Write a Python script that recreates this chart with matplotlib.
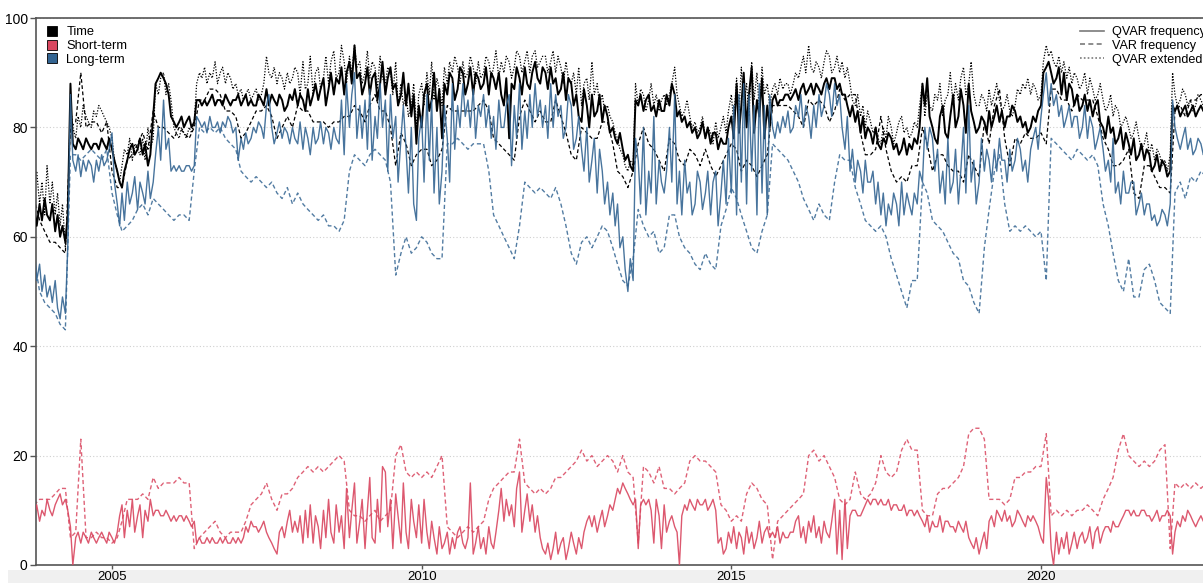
import matplotlib
matplotlib.use("Agg")
import matplotlib.pyplot as plt
import matplotlib.dates as mdates
from matplotlib.lines import Line2D
from matplotlib.patches import Patch, Rectangle
import pandas as pd

plt.rcParams['font.family'] = ['Liberation Sans', 'DejaVu Sans']

C_TIME = '#000000'
C_SHORT = '#d9465f'
C_LONG = '#346592'

# ---- semi-monthly readings (1st and 15th of each month), from Oct 2003 ----
time_qvar = [
    65, 62, 66, 63, 67, 64,
    63, 66, 61, 64, 60, 62, 59, 64, 88, 77, 76, 78, 77, 76, 78, 77, 76, 77, 77, 76, 78, 77, 76, 78,
    76, 74, 72, 70, 69, 72, 74, 76, 77, 75, 76, 78, 75, 77, 73, 75, 82, 88, 89, 90, 89, 88, 86, 82,
    81, 80, 81, 82, 80, 81, 82, 80, 81, 85, 85, 84, 85, 84, 85, 86, 84, 85, 85, 84, 86, 85, 84, 85,
    85, 86, 84, 85, 86, 84, 85, 84, 84, 86, 85, 84, 87, 84, 86, 85, 84, 86, 85, 83, 84, 86, 85, 87,
    84, 86, 85, 83, 87, 84, 86, 88, 85, 87, 89, 84, 87, 90, 86, 89, 88, 91, 86, 90, 92, 88, 95, 89,
    90, 86, 88, 91, 86, 89, 90, 85, 88, 92, 86, 89, 91, 87, 88, 84, 86, 90, 84, 88, 82, 86, 77, 84,
    80, 86, 88, 83, 85, 90, 83, 87, 78, 88, 86, 90, 89, 85, 87, 91, 90, 86, 88, 91, 86, 90, 89, 87,
    88, 91, 86, 90, 89, 87, 90, 86, 84, 89, 78, 88, 87, 91, 89, 86, 91, 88, 87, 90, 92, 89, 88, 91,
    90, 87, 91, 88, 89, 86, 87, 90, 85, 89, 88, 84, 86, 82, 81, 87, 84, 80, 86, 82, 83, 86, 81, 84,
    82, 79, 80, 78, 77, 79, 76, 74, 75, 73, 72, 85, 84, 86, 83, 85, 86, 83, 84, 82, 85, 83, 83, 86,
    84, 88, 86, 82, 83, 81, 82, 80, 81, 79, 80, 78, 79, 81, 78, 80, 77, 79, 79, 76, 78, 77, 77, 80,
    82, 78, 88, 79, 84, 90, 80, 86, 91, 79, 85, 82, 89, 78, 84, 80, 85, 86, 84, 85, 85, 86, 86, 85,
    86, 87, 85, 87, 88, 86, 87, 88, 86, 88, 87, 86, 88, 89, 87, 89, 89, 87, 88, 86, 86, 84, 82, 84,
    81, 83, 79, 82, 78, 80, 79, 77, 80, 77, 76, 78, 77, 79, 78, 76, 77, 75, 76, 78, 75, 77, 76, 78,
    77, 80, 88, 84, 89, 82, 80, 78, 77, 82, 84, 79, 78, 82, 86, 80, 82, 87, 84, 79, 88, 83, 81, 79,
    80, 82, 81, 79, 83, 80, 82, 84, 81, 83, 80, 82, 82, 84, 83, 81, 82, 80, 81, 79, 80, 82, 81, 83,
    84, 90, 91, 92, 90, 88, 89, 91, 86, 90, 85, 88, 87, 84, 86, 83, 84, 86, 83, 85, 82, 84, 85, 81,
    80, 78, 82, 79, 80, 77, 78, 80, 76, 79, 77, 75, 78, 74, 75, 77, 74, 76, 75, 72, 73, 75, 72, 74,
    73, 71, 72, 84, 83, 84, 82, 83, 84, 82, 83, 84, 82, 83, 84, 83, 83, 82,
]

time_ext = [
    68, 72, 66, 70, 64, 73,
    66, 70, 64, 68, 62, 66, 58, 64, 84, 80, 78, 82, 80, 84, 82, 81, 80, 83, 82, 84, 83, 82, 81, 80,
    78, 74, 72, 70, 73, 76, 75, 78, 74, 77, 76, 75, 78, 74, 80, 76, 78, 88, 86, 89, 90, 86, 88, 85,
    80, 79, 78, 80, 79, 78, 80, 79, 81, 88, 90, 89, 91, 88, 90, 89, 92, 88, 90, 91, 88, 90, 89, 87,
    88, 86, 87, 85, 86, 87, 85, 86, 87, 85, 86, 88, 93, 90, 89, 91, 88, 90, 89, 87, 90, 88, 89, 91,
    90, 86, 92, 87, 88, 93, 86, 90, 91, 87, 89, 93, 88, 92, 94, 89, 90, 95, 92, 88, 93, 90, 95, 91,
    92, 88, 90, 94, 89, 92, 91, 87, 93, 89, 88, 91, 90, 86, 92, 84, 88, 84, 86, 82, 84, 88, 80, 86,
    88, 84, 90, 86, 92, 85, 89, 87, 84, 91, 88, 92, 90, 93, 91, 88, 92, 89, 90, 93, 91, 88, 92, 89,
    90, 93, 92, 89, 91, 94, 89, 92, 90, 93, 92, 89, 91, 94, 93, 90, 92, 94, 90, 93, 94, 91, 92, 93,
    93, 90, 92, 94, 90, 93, 91, 88, 92, 89, 88, 90, 86, 91, 84, 88, 89, 85, 92, 86, 88, 84, 86, 83,
    84, 82, 81, 79, 78, 76, 75, 73, 72, 74, 73, 88, 84, 87, 86, 83, 85, 88, 84, 86, 83, 85, 86, 84,
    86, 88, 91, 86, 84, 82, 83, 85, 82, 80, 81, 79, 80, 82, 78, 80, 79, 77, 81, 78, 80, 82, 79, 83,
    86, 81, 89, 83, 91, 84, 88, 82, 92, 85, 90, 83, 91, 86, 88, 84, 87, 88, 86, 89, 87, 88, 88, 86,
    88, 90, 89, 91, 93, 90, 95, 91, 90, 92, 91, 89, 92, 94, 93, 90, 91, 93, 90, 92, 89, 91, 88, 85,
    84, 86, 82, 84, 80, 83, 81, 79, 80, 78, 77, 80, 78, 82, 80, 77, 79, 81, 82, 79, 80, 78, 79, 81,
    80, 84, 88, 82, 86, 84, 83, 86, 85, 88, 82, 85, 86, 90, 84, 88, 85, 89, 91, 86, 88, 92, 86, 84,
    84, 86, 85, 83, 87, 84, 86, 88, 85, 83, 84, 86, 83, 82, 84, 87, 86, 88, 87, 89, 86, 88, 87, 85,
    86, 92, 95, 93, 94, 92, 91, 93, 90, 92, 89, 91, 88, 90, 89, 87, 88, 90, 86, 89, 87, 85, 86, 88,
    85, 83, 84, 86, 82, 84, 83, 80, 81, 82, 80, 78, 79, 81, 78, 76, 77, 79, 75, 77, 74, 76, 75, 73,
    74, 72, 75, 90, 86, 84, 85, 87, 86, 84, 85, 83, 84, 86, 85, 84, 84, 85,
]

long_qvar = [
    58, 52, 55, 50, 53, 49,
    51, 48, 52, 47, 45, 49, 46, 58, 86, 74, 72, 75, 71, 74, 72, 74, 73, 70, 74, 72, 75, 73, 74, 76,
    79, 70, 66, 62, 68, 63, 70, 66, 68, 71, 65, 70, 68, 66, 72, 67, 70, 75, 80, 74, 85, 76, 78, 72,
    73, 72, 73, 72, 72, 73, 73, 72, 73, 82, 81, 80, 81, 79, 82, 80, 80, 81, 79, 81, 80, 82, 81, 79,
    80, 74, 78, 76, 79, 77, 78, 80, 79, 81, 80, 78, 84, 86, 80, 77, 79, 81, 78, 80, 79, 77, 80, 78,
    77, 81, 76, 80, 78, 75, 80, 77, 78, 81, 77, 80, 79, 76, 80, 78, 77, 85, 75, 88, 80, 86, 90, 78,
    84, 78, 85, 76, 87, 74, 82, 78, 88, 80, 85, 72, 86, 78, 82, 70, 78, 84, 76, 68, 80, 66, 63, 78,
    82, 70, 86, 74, 85, 68, 80, 66, 72, 84, 78, 70, 88, 76, 84, 80, 88, 82, 85, 80, 87, 78, 84, 82,
    86, 80, 84, 78, 82, 76, 85, 80, 80, 84, 86, 73, 84, 78, 88, 76, 83, 78, 86, 80, 88, 82, 85, 80,
    84, 78, 88, 80, 86, 82, 84, 78, 80, 86, 84, 76, 78, 82, 76, 72, 80, 70, 74, 78, 68, 76, 72, 66,
    70, 64, 68, 62, 66, 58, 60, 54, 50, 56, 52, 78, 74, 66, 80, 64, 72, 68, 82, 66, 74, 70, 68, 72,
    80, 70, 86, 66, 72, 64, 74, 68, 70, 64, 66, 72, 70, 65, 68, 72, 64, 70, 72, 62, 68, 74, 66, 78,
    68, 84, 64, 86, 70, 88, 66, 86, 72, 84, 64, 88, 68, 84, 64, 86, 80, 78, 81, 79, 82, 80, 83, 79,
    80, 84, 82, 86, 80, 84, 82, 78, 84, 80, 86, 82, 84, 88, 86, 82, 88, 84, 86, 80, 76, 82, 72, 76,
    70, 74, 72, 68, 74, 70, 70, 72, 66, 70, 64, 68, 62, 66, 64, 68, 66, 62, 70, 64, 68, 66, 64, 68,
    66, 72, 70, 80, 76, 80, 78, 72, 76, 68, 72, 66, 78, 68, 70, 76, 66, 72, 80, 68, 84, 70, 74, 66,
    70, 78, 72, 76, 74, 70, 76, 72, 78, 74, 74, 70, 76, 72, 74, 78, 76, 72, 74, 70, 76, 78, 80, 76,
    82, 86, 90, 84, 88, 84, 86, 82, 84, 80, 82, 84, 80, 82, 82, 78, 80, 84, 78, 82, 80, 76, 78, 80,
    76, 72, 74, 70, 78, 68, 70, 66, 72, 68, 68, 70, 70, 64, 66, 68, 64, 66, 66, 63, 64, 62, 63, 65,
    64, 62, 66, 85, 80, 78, 76, 78, 80, 76, 78, 75, 76, 78, 77, 75, 76, 75,
]

short_qvar = [
    9, 11, 8, 10, 9, 12,
    10, 9, 11, 12, 13, 11, 12, 10, 7, 0, 5, 6, 4, 6, 5, 4, 6, 5, 4, 5, 6, 5, 4, 6,
    5, 4, 6, 9, 11, 5, 10, 7, 12, 6, 9, 11, 5, 10, 8, 12, 9, 10, 10, 9, 9, 10, 9, 8,
    9, 8, 9, 9, 8, 9, 8, 7, 8, 4, 5, 4, 4, 5, 4, 5, 4, 4, 5, 4, 5, 4, 4, 5,
    4, 5, 4, 5, 7, 6, 8, 7, 7, 6, 7, 8, 6, 5, 4, 3, 2, 6, 7, 5, 8, 10, 6, 8,
    6, 9, 4, 10, 5, 11, 4, 9, 7, 3, 10, 5, 12, 6, 4, 11, 6, 9, 3, 14, 5, 10, 15, 4,
    8, 12, 3, 10, 16, 5, 4, 12, 6, 18, 17, 7, 12, 3, 13, 9, 4, 15, 6, 3, 12, 8, 5, 11,
    4, 12, 6, 3, 8, 5, 2, 7, 3, 4, 6, 2, 5, 3, 6, 7, 4, 3, 5, 15, 2, 4, 7, 3,
    5, 2, 7, 4, 3, 6, 10, 14, 8, 12, 9, 11, 7, 14, 17, 6, 10, 13, 8, 11, 6, 9, 5, 3,
    2, 4, 1, 3, 6, 2, 4, 5, 1, 3, 6, 4, 2, 5, 3, 6, 8, 9, 7, 9, 6, 8, 10, 7,
    9, 11, 10, 12, 14, 13, 15, 14, 13, 12, 11, 12, 3, 11, 12, 11, 12, 10, 4, 12, 9, 3, 11, 6,
    8, 9, 7, 6, 0, 9, 11, 10, 12, 11, 10, 12, 11, 11, 12, 10, 11, 12, 10, 4, 5, 2, 3, 6,
    4, 7, 3, 6, 5, 2, 7, 4, 6, 3, 5, 8, 4, 6, 7, 5, 6, 5, 7, 4, 6, 5, 5, 6,
    6, 8, 9, 5, 7, 4, 8, 6, 9, 5, 7, 4, 8, 6, 5, 8, 12, 2, 10, 1, 12, 3, 9, 10,
    10, 9, 9, 10, 11, 12, 11, 12, 12, 11, 12, 11, 11, 12, 10, 11, 11, 10, 10, 11, 9, 10, 10, 9,
    10, 9, 8, 7, 9, 6, 8, 7, 7, 9, 6, 8, 8, 7, 7, 6, 8, 7, 6, 8, 5, 4, 3, 5,
    2, 4, 6, 3, 8, 9, 7, 10, 9, 8, 10, 8, 9, 7, 8, 10, 9, 8, 7, 9, 8, 9, 8, 7,
    5, 4, 16, 12, 3, 0, 6, 2, 5, 3, 6, 2, 4, 6, 3, 5, 6, 4, 5, 7, 3, 6, 7, 4,
    6, 7, 7, 6, 8, 7, 7, 8, 9, 10, 10, 9, 10, 9, 9, 10, 10, 9, 9, 8, 9, 10, 8, 9,
    9, 10, 9, 2, 6, 8, 7, 9, 8, 10, 9, 8, 7, 8, 9, 8, 8, 9,
]

# ---- monthly readings (1st of each month), from Oct 2003 ----
time_var = [
    67, 63, 61,
    59, 59, 58, 57, 80, 81, 90, 80, 81, 81, 79, 81,
    72, 69, 69, 74, 75, 77, 79, 76, 83, 80, 80, 79,
    78, 80, 79, 78, 80, 85, 85, 87, 87, 86, 83, 83,
    82, 78, 79, 81, 83, 83, 84, 82, 78, 80, 82, 80,
    84, 83, 83, 81, 81, 81, 80, 81, 81, 82, 82, 84,
    83, 81, 84, 86, 83, 83, 80, 73, 79, 77, 73, 75,
    76, 76, 73, 74, 76, 84, 83, 83, 83, 83, 83, 84,
    85, 83, 78, 77, 76, 75, 74, 82, 85, 83, 81, 83,
    81, 81, 85, 82, 79, 75, 74, 80, 79, 78, 78, 81,
    81, 77, 72, 71, 69, 72, 77, 80, 77, 76, 74, 72,
    78, 77, 74, 73, 76, 75, 73, 76, 73, 71, 73, 75,
    77, 76, 72, 74, 73, 71, 73, 75, 84, 84, 84, 84,
    83, 82, 80, 85, 84, 85, 84, 81, 83, 87, 85, 86,
    86, 79, 75, 75, 76, 82, 76, 72, 70, 71, 70, 73,
    73, 80, 77, 72, 75, 75, 73, 72, 72, 70, 75, 73,
    71, 81, 77, 84, 87, 78, 73, 78, 77, 79, 78, 78,
    79, 77, 87, 87, 85, 85, 83, 86, 85, 85, 85, 82,
    78, 76, 73, 73, 74, 76, 68, 67, 73, 73, 71, 69,
    69, 68, 83, 84, 82, 85, 85, 86, 86,
]

long_var = [
    56, 50, 48,
    47, 46, 44, 43, 75, 75, 74, 75, 76, 75, 74, 76,
    68, 64, 61, 62, 63, 65, 66, 64, 67, 66, 65, 64,
    63, 64, 64, 63, 72, 80, 79, 80, 79, 80, 78, 77,
    76, 72, 71, 70, 71, 70, 69, 70, 68, 67, 69, 66,
    68, 66, 65, 64, 63, 64, 62, 62, 61, 63, 72, 75,
    74, 73, 75, 76, 75, 74, 70, 53, 57, 60, 57, 58,
    60, 59, 57, 56, 56, 77, 77, 78, 77, 76, 77, 77,
    77, 72, 64, 62, 60, 58, 56, 62, 70, 69, 68, 69,
    68, 67, 69, 66, 62, 57, 55, 59, 60, 58, 60, 62,
    61, 58, 55, 52, 51, 56, 65, 62, 60, 61, 57, 58,
    64, 64, 60, 58, 57, 55, 54, 57, 55, 54, 62, 65,
    69, 67, 64, 61, 58, 57, 61, 64, 77, 76, 75, 74,
    72, 70, 67, 65, 63, 66, 64, 63, 70, 75, 74, 74,
    69, 66, 63, 62, 61, 62, 60, 56, 53, 50, 47, 52,
    52, 70, 68, 63, 62, 61, 59, 57, 56, 52, 51, 48,
    46, 58, 65, 72, 75, 66, 61, 62, 61, 62, 61, 60,
    61, 52, 78, 77, 76, 75, 74, 76, 75, 74, 75, 73,
    66, 62, 57, 52, 50, 56, 49, 49, 54, 55, 52, 48,
    47, 46, 68, 70, 67, 71, 70, 72, 71,
]

short_var = [
    11, 12, 12,
    12, 13, 14, 14, 5, 6, 23, 5, 5, 6, 5, 5,
    4, 5, 8, 12, 12, 12, 13, 12, 16, 14, 15, 15,
    15, 16, 15, 15, 3, 5, 6, 7, 8, 6, 5, 6,
    6, 6, 8, 11, 12, 13, 15, 12, 10, 13, 13, 14,
    16, 17, 18, 17, 18, 17, 18, 19, 20, 19, 10, 9,
    9, 8, 9, 10, 8, 9, 10, 20, 22, 17, 16, 17,
    16, 17, 16, 18, 20, 7, 6, 5, 6, 7, 6, 7,
    8, 12, 14, 15, 16, 17, 17, 23, 15, 14, 13, 14,
    13, 14, 16, 16, 17, 18, 19, 21, 19, 20, 18, 19,
    20, 19, 17, 20, 17, 16, 4, 18, 17, 15, 18, 14,
    14, 13, 14, 15, 19, 20, 19, 19, 18, 17, 11, 10,
    8, 9, 8, 13, 15, 14, 12, 11, 1, 8, 9, 10,
    11, 12, 13, 20, 21, 19, 20, 18, 16, 12, 11, 12,
    17, 13, 12, 13, 15, 20, 17, 16, 17, 21, 23, 21,
    21, 10, 9, 9, 13, 14, 14, 15, 16, 18, 24, 25,
    25, 23, 12, 12, 12, 11, 12, 16, 16, 17, 17, 18,
    18, 24, 9, 10, 9, 10, 9, 10, 10, 11, 10, 9,
    12, 14, 16, 21, 24, 20, 19, 18, 19, 18, 19, 21,
    22, 3, 15, 14, 15, 14, 15, 14, 15,
]


def semi_index(vals):
    return pd.date_range('2003-10-01', periods=len(vals), freq='SMS')


def month_index(vals):
    return pd.date_range('2003-10-01', periods=len(vals), freq='MS')


W, H = 1203, 583
fig = plt.figure(figsize=(W / 100, H / 100), dpi=100)

# light strip along the bottom edge
fig.patches.append(Rectangle((8 / W, 0), 1, 13 / H, transform=fig.transFigure,
                             facecolor='#f0f0f0', edgecolor='none', zorder=-1))

ax = fig.add_axes([36 / W, 18 / H, (1215 - 36) / W, 547 / H])

# dashed / dotted variants underneath
ax.plot(semi_index(time_ext), time_ext, color=C_TIME, lw=0.9, ls=(0, (1, 1.3)), zorder=2)
ax.plot(month_index(time_var), time_var, color=C_TIME, lw=0.9, ls=(0, (3, 2)), zorder=2)
ax.plot(month_index(long_var), long_var, color=C_LONG, lw=1.0, ls=(0, (3, 2)), alpha=0.85, zorder=2)
ax.plot(month_index(short_var), short_var, color=C_SHORT, lw=1.0, ls=(0, (3, 2)), alpha=0.85, zorder=2)

# QVAR frequency (solid)
ax.plot(semi_index(time_qvar), time_qvar, color=C_TIME, lw=1.4, zorder=3)
ax.plot(semi_index(long_qvar), long_qvar, color=C_LONG, lw=1.0, alpha=0.9, zorder=3)
ax.plot(semi_index(short_qvar), short_qvar, color=C_SHORT, lw=1.0, alpha=0.9, zorder=3)

# x scale: 2005-01-01 sits at px 112, 2020-01-01 at px 1041
d05 = mdates.date2num(pd.Timestamp('2005-01-01'))
d20 = mdates.date2num(pd.Timestamp('2020-01-01'))
ppd = (1041 - 112) / (d20 - d05)
ax.set_xlim(d05 - (112 - 36) / ppd, d05 + (1215 - 112) / ppd)
ax.set_ylim(0, 100)

ax.xaxis.set_major_locator(mdates.YearLocator(5))
ax.xaxis.set_major_formatter(mdates.DateFormatter('%Y'))
ax.set_yticks([0, 20, 40, 60, 80, 100])

ax.grid(axis='y', color='#cfcfcf', lw=0.8, ls=(0, (1, 2)))
ax.grid(axis='x', visible=False)
ax.set_axisbelow(True)

for side in ['left', 'bottom', 'top']:
    ax.spines[side].set_color('#555555')
    ax.spines[side].set_linewidth(1.2)
ax.spines['right'].set_visible(False)

ax.tick_params(axis='y', length=4, width=1, color='#555555', labelsize=10, pad=2)
ax.tick_params(axis='x', length=3, width=1, color='#555555', labelsize=9.5, pad=1)

# component legend (filled boxes)
comp_handles = [Patch(facecolor=c, edgecolor='black', lw=0.6) for c in (C_TIME, C_SHORT, C_LONG)]
fig.legend(comp_handles, ['Time', 'Short-term', 'Long-term'],
           loc='upper left', bbox_to_anchor=(47 / W, 1 - 26 / H),
           bbox_transform=fig.transFigure, frameon=False, fontsize=9.3,
           handlelength=0.8, handleheight=0.8, handletextpad=0.7,
           labelspacing=0.1, borderpad=0, borderaxespad=0)

# model legend (line styles)
style_handles = [Line2D([], [], color='#7a7a7a', lw=1.2, ls=s)
                 for s in ('-', (0, (3, 2)), (0, (1, 1.3)))]
fig.legend(style_handles, ['QVAR frequency', 'VAR frequency', 'QVAR extended'],
           loc='upper left', bbox_to_anchor=(1080 / W, 1 - 26 / H),
           bbox_transform=fig.transFigure, frameon=False, fontsize=9.1,
           handlelength=1.9, handletextpad=0.6,
           labelspacing=0.15, borderpad=0, borderaxespad=0)

fig.savefig('out.png', dpi=100)
